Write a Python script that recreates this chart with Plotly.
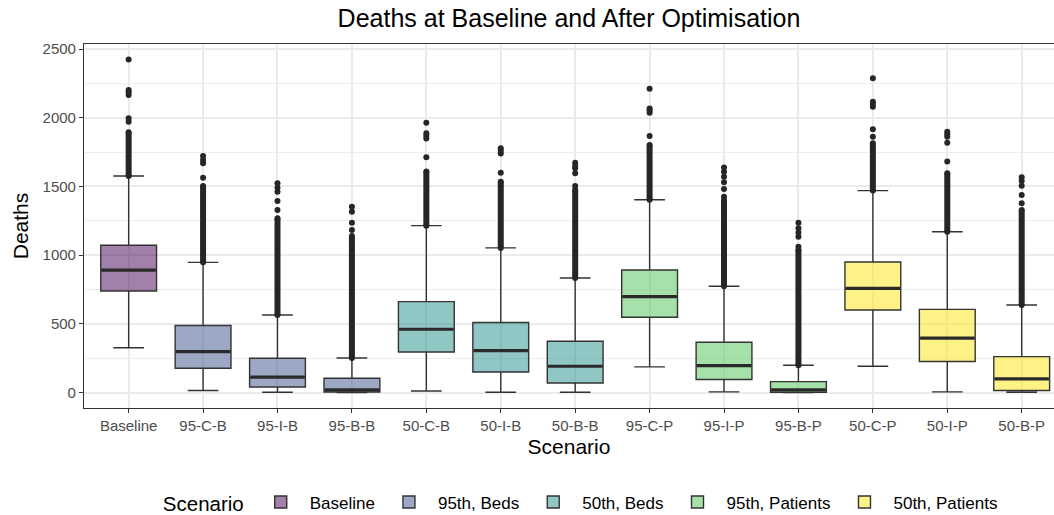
import plotly.graph_objects as go

categories = ["Baseline", "95-C-B", "95-I-B", "95-B-B", "50-C-B", "50-I-B", "50-B-B",
              "95-C-P", "95-I-P", "95-B-P", "50-C-P", "50-I-P", "50-B-P"]
group_of = ["Baseline", "95th, Beds", "95th, Beds", "95th, Beds",
            "50th, Beds", "50th, Beds", "50th, Beds",
            "95th, Patients", "95th, Patients", "95th, Patients",
            "50th, Patients", "50th, Patients", "50th, Patients"]
groups = ["Baseline", "95th, Beds", "50th, Beds", "95th, Patients", "50th, Patients"]
group_colors = ["rgba(68,1,84,0.5)", "rgba(59,82,139,0.5)", "rgba(33,144,140,0.5)",
                "rgba(93,200,99,0.55)", "rgba(253,231,37,0.55)"]

lower_whisker = [327, 15, 3, 0, 12, 3, 3, 187, 5, 0, 192, 5, 3]
q1 = [740, 177, 41, 4, 296, 150, 70, 548, 95, 3, 601, 226, 15]
median = [892, 298, 112, 20, 461, 306, 192, 698, 197, 20, 759, 396, 100]
q3 = [1072, 488, 250, 104, 662, 510, 374, 892, 366, 80, 951, 606, 262]
upper_whisker = [1576, 948, 565, 252, 1215, 1053, 834, 1404, 774, 199, 1470, 1171, 638]

# dense run of outliers (from upper whisker up to this value)
dense_outlier_top = [1895, 1504, 1268, 1140, 1610, 1535, 1475, 1802, 1400, 1040, 1814, 1596, 1329]
# separated outliers above the dense run
sparse_outliers = [
    [1971, 1996, 2165, 2185, 2202, 2425],
    [1564, 1669, 1693, 1722],
    [1329, 1394, 1462, 1490, 1523],
    [1184, 1237, 1317, 1353],
    [1712, 1850, 1870, 1887, 1964],
    [1600, 1741, 1760, 1778],
    [1504, 1596, 1632, 1650, 1673],
    [1867, 2037, 2055, 2068, 2211],
    [1426, 1482, 1530, 1571, 1608, 1639],
    [1062, 1135, 1165, 1196, 1237],
    [1862, 1916, 2081, 2100, 2117, 2287],
    [1681, 1819, 1862, 1880, 1899],
    [1378, 1438, 1506, 1540, 1567],
]

y_ticks = [0, 500, 1000, 1500, 2000, 2500]

FONT = "Liberation Sans, Arial, sans-serif"
BOX_W = 0.75
DARK = "#333333"
PT = "#262626"

fig = go.Figure()

for g, col in zip(groups, group_colors):
    idx = [i for i, gg in enumerate(group_of) if gg == g]
    fig.add_trace(go.Box(
        name=g,
        x=idx,
        q1=[q1[i] for i in idx],
        median=[median[i] for i in idx],
        q3=[q3[i] for i in idx],
        lowerfence=[lower_whisker[i] for i in idx],
        upperfence=[upper_whisker[i] for i in idx],
        width=BOX_W,
        whiskerwidth=0.55,
        boxpoints=False,
        fillcolor=col,
        line=dict(color=DARK, width=1.4),
        showlegend=True,
        hoverinfo="skip",
    ))

# thick median lines (ggplot fatten)
mx, my = [], []
for i, m in enumerate(median):
    mx += [i - BOX_W / 2 + 0.01, i + BOX_W / 2 - 0.01, None]
    my += [m, m, None]
fig.add_trace(go.Scatter(x=mx, y=my, mode="lines", line=dict(color="#2a2a2a", width=3.2),
                         showlegend=False, hoverinfo="skip"))

# dense outlier runs
dx, dy = [], []
for i in range(len(categories)):
    dx += [i, i, None]
    dy += [upper_whisker[i], dense_outlier_top[i], None]
fig.add_trace(go.Scatter(x=dx, y=dy, mode="lines+markers",
                         line=dict(color=PT, width=6),
                         marker=dict(color=PT, size=6),
                         showlegend=False, hoverinfo="skip"))

# sparse outliers
sx, sy = [], []
for i, pts in enumerate(sparse_outliers):
    for p in pts:
        sx.append(i)
        sy.append(p)
fig.add_trace(go.Scatter(x=sx, y=sy, mode="markers",
                         marker=dict(color=PT, size=6),
                         showlegend=False, hoverinfo="skip"))

fig.update_layout(
    width=1054, height=515,
    margin=dict(l=84, r=0, t=44, b=107, autoexpand=False),
    paper_bgcolor="white", plot_bgcolor="white",
    boxmode="overlay",
    font=dict(family=FONT, color="black"),
    title=dict(text="Deaths at Baseline and After Optimisation",
               x=0.5, xref="paper", xanchor="center",
               y=1 - 18 / 515, yref="container", yanchor="middle",
               font=dict(size=25, color="black", family=FONT)),
    legend=dict(orientation="h", x=0.552, xref="container", xanchor="center",
                y=1 - 503 / 515, yref="container", yanchor="middle",
                title=dict(text="Scenario", font=dict(size=20.5, color="black")),
                font=dict(size=17, color="black"), bgcolor="rgba(0,0,0,0)",
                itemwidth=48),
    xaxis=dict(
        range=[-0.6, 12.434], automargin=False,
        tickmode="array", tickvals=list(range(len(categories))), ticktext=categories,
        ticks="outside", ticklen=4, tickcolor=DARK, tickwidth=1.1,
        tickfont=dict(size=15, color="#4D4D4D", family=FONT),
        showgrid=True, gridcolor="#EBEBEB", gridwidth=1.8,
        showline=True, linecolor=DARK, linewidth=1.1, mirror=True,
        zeroline=False,
        title=dict(text="Scenario", font=dict(size=21, color="black"), standoff=6),
    ),
    yaxis=dict(
        range=[-112, 2537], automargin=False,
        tickmode="array", tickvals=y_ticks, ticktext=[str(v) for v in y_ticks],
        ticks="outside", ticklen=4, tickcolor=DARK, tickwidth=1.1,
        tickfont=dict(size=15, color="#4D4D4D", family=FONT),
        showgrid=True, gridcolor="#EBEBEB", gridwidth=1.8,
        minor=dict(tickvals=[250, 750, 1250, 1750, 2250], showgrid=True,
                   gridcolor="#EEEEEE", gridwidth=1.0, ticks=""),
        showline=True, linecolor=DARK, linewidth=1.1,
        zeroline=False,
        title=dict(text="Deaths", font=dict(size=21, color="black"), standoff=8),
    ),
)

fig.write_html("out.html")
